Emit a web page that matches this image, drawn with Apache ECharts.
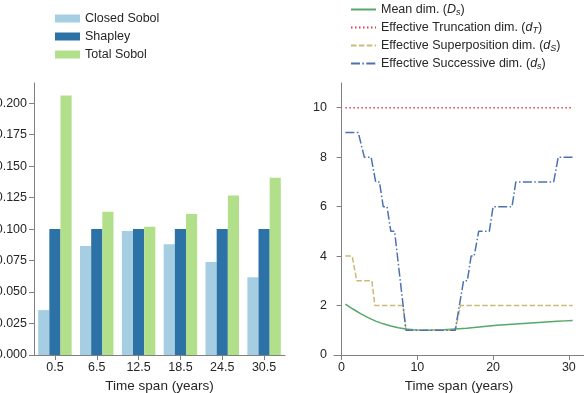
<!DOCTYPE html>
<html>
<head>
<meta charset="utf-8">
<script src="https://cdn.jsdelivr.net/npm/echarts@6/dist/echarts.min.js"></script>
<style>
  html, body { margin: 0; padding: 0; background: #fff; }
  #chart { width: 584px; height: 393px; }
</style>
</head>
<body>
<div id="chart"></div>
<script>
// left panel: bars per time span
var spans = ['0.5', '6.5', '12.5', '18.5', '24.5', '30.5'];
var closedSobol = [0.0357, 0.0865, 0.0984, 0.088, 0.0738, 0.0617];
var shapley = [0.1, 0.1, 0.1, 0.1, 0.1, 0.1];
var totalSobol = [0.206, 0.1138, 0.1018, 0.112, 0.1266, 0.1407];
var leftTicks = [0, 0.025, 0.05, 0.075, 0.1, 0.125, 0.15, 0.175, 0.2];

// right panel: dimensions vs time span
var meanT = [0.5, 1.5, 2.5, 3.5, 4.5, 5.5, 6.5, 7.5, 8.5, 9.5, 10.5, 11.5, 12.5, 13.5, 14.5, 15.5,
  16.5, 17.5, 18.5, 19.5, 20.5, 21.5, 22.5, 23.5, 24.5, 25.5, 26.5, 27.5, 28.5, 29.5, 30.5];
var meanV = [2.06, 1.86, 1.67, 1.51, 1.37, 1.26, 1.17, 1.10, 1.05, 1.02, 1.00, 1.00, 1.01, 1.02, 1.04, 1.06,
  1.08, 1.11, 1.14, 1.17, 1.20, 1.22, 1.24, 1.26, 1.28, 1.30, 1.32, 1.34, 1.36, 1.38, 1.40];
var truncT = [0.5, 30.5];
var truncV = [10, 10];
var superT = [0.5, 1.4, 2.0, 4.0, 4.4, 8.1, 8.5, 15.0, 15.7, 30.5];
var superV = [4, 4, 3, 3, 2, 2, 1, 1, 2, 2];
var succT = [0.5, 2.2, 3.0, 3.9, 4.5, 5.0, 5.5, 6.0, 6.5, 7.0, 8.5, 15.0, 16.1, 16.6, 17.1, 17.5,
  18.1, 19.5, 20.0, 22.5, 23.0, 28.0, 28.6, 30.5];
var succV = [9, 9, 8, 8, 7, 7, 6, 6, 5, 5, 1, 1, 3, 3, 4, 4, 5, 5, 6, 6, 7, 7, 8, 8];
var rightXTicks = [0, 10, 20, 30];
var rightYTicks = [0, 2, 4, 6, 8, 10];

function pairs(t, v) {
  return t.map(function (x, i) { return [x, v[i]]; });
}

var font = 'Arial, "Liberation Sans", Helvetica, sans-serif';
var textColor = '#262626';
var axisColor = '#808080';

function axisBase() {
  return {
    axisLine: { show: true, lineStyle: { color: axisColor, width: 1 } },
    axisTick: { show: true, length: 5, lineStyle: { color: axisColor } },
    axisLabel: { color: textColor, fontFamily: font, fontSize: 12.5 },
    splitLine: { show: false },
    nameTextStyle: { color: textColor, fontFamily: font, fontSize: 13.5 }
  };
}

var xLeft = axisBase();
xLeft.type = 'category';
xLeft.gridIndex = 0;
xLeft.data = spans;
xLeft.axisTick.alignWithLabel = true;
xLeft.axisLabel.margin = 6;
xLeft.name = 'Time span (years)';
xLeft.nameLocation = 'middle';
xLeft.nameGap = 20;

var yLeft = axisBase();
yLeft.type = 'value';
yLeft.gridIndex = 0;
yLeft.min = 0;
yLeft.max = 0.216;
yLeft.axisTick.customValues = leftTicks;
yLeft.axisLabel.customValues = leftTicks;
yLeft.axisLabel.margin = 7;
yLeft.axisLabel.formatter = function (v) { return v.toFixed(3); };

var xRight = axisBase();
xRight.type = 'value';
xRight.gridIndex = 1;
xRight.min = -1;
xRight.max = 32;
xRight.axisTick.customValues = rightXTicks;
xRight.axisLabel.customValues = rightXTicks;
xRight.axisLabel.margin = 6;
xRight.name = 'Time span (years)';
xRight.nameLocation = 'middle';
xRight.nameGap = 20;

var yRight = axisBase();
yRight.type = 'value';
yRight.gridIndex = 1;
yRight.min = 0;
yRight.max = 11;
yRight.axisTick.customValues = rightYTicks;
yRight.axisLabel.customValues = rightYTicks;
yRight.axisLabel.margin = 7;

var rich = {
  it: { fontStyle: 'italic', fontFamily: font, fontSize: 12.5, color: textColor },
  sub: { fontStyle: 'italic', fontFamily: font, fontSize: 9, color: textColor, padding: [6, 0, 0, 0] }
};
var subs = {
  'Mean dim.': ['D', 's'],
  'Effective Truncation dim.': ['d', 'T'],
  'Effective Superposition dim.': ['d', 'S'],
  'Effective Successive dim.': ['d', 's']
};

var chart = echarts.init(document.getElementById('chart'));
var option = {
  animation: false,
  backgroundColor: '#fff',
  grid: [
    { left: 34, top: 83, width: 251, height: 272, containLabel: false, outerBoundsMode: 'none' },
    { left: 334, top: 83, width: 250, height: 272, containLabel: false, outerBoundsMode: 'none' }
  ],
  legend: [
    {
      data: ['Closed Sobol', 'Shapley', 'Total Sobol'],
      orient: 'vertical',
      left: 50,
      top: 7,
      itemWidth: 25,
      itemHeight: 8,
      itemGap: 5,
      icon: 'rect',
      textStyle: { color: textColor, fontFamily: font, fontSize: 12.5 }
    },
    {
      data: ['Mean dim.', 'Effective Truncation dim.', 'Effective Superposition dim.', 'Effective Successive dim.'],
      orient: 'vertical',
      left: 345,
      top: -2,
      itemWidth: 25,
      itemHeight: 8,
      itemGap: 4,
      itemStyle: { opacity: 0 },
      textStyle: { color: textColor, fontFamily: font, fontSize: 12.5, rich: rich },
      formatter: function (name) {
        var s = subs[name];
        return name + ' ({it|' + s[0] + '}{sub|' + s[1] + '})';
      }
    }
  ],
  xAxis: [xLeft, xRight],
  yAxis: [yLeft, yRight],
  series: [
    { name: 'Closed Sobol', type: 'bar', xAxisIndex: 0, yAxisIndex: 0, data: closedSobol,
      barGap: '0%', barCategoryGap: '20%', itemStyle: { color: '#a6cee3' } },
    { name: 'Shapley', type: 'bar', xAxisIndex: 0, yAxisIndex: 0, data: shapley,
      barGap: '0%', barCategoryGap: '20%', itemStyle: { color: '#2c72a6' } },
    { name: 'Total Sobol', type: 'bar', xAxisIndex: 0, yAxisIndex: 0, data: totalSobol,
      barGap: '0%', barCategoryGap: '20%', itemStyle: { color: '#b2df8a' } },
    { name: 'Mean dim.', type: 'line', xAxisIndex: 1, yAxisIndex: 1, data: pairs(meanT, meanV),
      symbol: 'none', color: '#55a868', lineStyle: { color: '#55a868', width: 1.5 } },
    { name: 'Effective Truncation dim.', type: 'line', xAxisIndex: 1, yAxisIndex: 1, data: pairs(truncT, truncV),
      symbol: 'none', color: '#d6404e', lineStyle: { color: '#d6404e', width: 1.5, type: [1.5, 2.5] } },
    { name: 'Effective Superposition dim.', type: 'line', xAxisIndex: 1, yAxisIndex: 1, data: pairs(superT, superV),
      symbol: 'none', color: '#ccb974', lineStyle: { color: '#ccb974', width: 1.5, type: [5.5, 2.4] } },
    { name: 'Effective Successive dim.', type: 'line', xAxisIndex: 1, yAxisIndex: 1, data: pairs(succT, succV),
      symbol: 'none', color: '#4c72b0', lineStyle: { color: '#4c72b0', width: 1.5, type: [9, 2.4, 1.5, 2.4] } }
  ]
};
chart.setOption(option);
</script>
</body>
</html>
